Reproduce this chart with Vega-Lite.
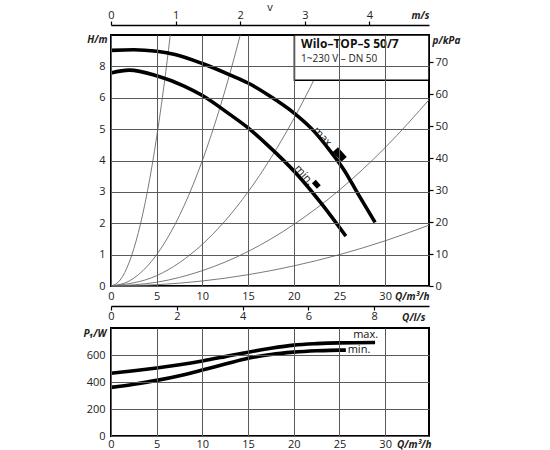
{
  "$schema": "https://vega.github.io/schema/vega-lite/v6.json",
  "background": "white",
  "padding": {"left": 81, "top": 1, "right": 5, "bottom": 0},
  "spacing": 4,
  "datasets": {
    "pump": [
      {"curve": "max", "Q": 0, "H": 7.51}, {"curve": "max", "Q": 2.5, "H": 7.53}, {"curve": "max", "Q": 5, "H": 7.48},
      {"curve": "max", "Q": 7, "H": 7.38}, {"curve": "max", "Q": 10, "H": 7.09}, {"curve": "max", "Q": 13, "H": 6.73},
      {"curve": "max", "Q": 15, "H": 6.47}, {"curve": "max", "Q": 17.25, "H": 6.08}, {"curve": "max", "Q": 20, "H": 5.52},
      {"curve": "max", "Q": 22, "H": 5.0}, {"curve": "max", "Q": 24, "H": 4.3}, {"curve": "max", "Q": 25.5, "H": 3.7},
      {"curve": "max", "Q": 27, "H": 2.95}, {"curve": "max", "Q": 28.9, "H": 2.03},
      {"curve": "min", "Q": 0, "H": 6.79}, {"curve": "min", "Q": 2, "H": 6.88}, {"curve": "min", "Q": 5, "H": 6.7},
      {"curve": "min", "Q": 8, "H": 6.37}, {"curve": "min", "Q": 10, "H": 6.07}, {"curve": "min", "Q": 13, "H": 5.47},
      {"curve": "min", "Q": 15, "H": 5.04}, {"curve": "min", "Q": 17.25, "H": 4.46}, {"curve": "min", "Q": 20.2, "H": 3.61},
      {"curve": "min", "Q": 23.1, "H": 2.6}, {"curve": "min", "Q": 25.7, "H": 1.59}
    ],
    "system": [
      {"k": "a", "Q": 0, "H": 0}, {"k": "a", "Q": 1, "H": 0.19}, {"k": "a", "Q": 2, "H": 0.76}, {"k": "a", "Q": 3, "H": 1.71},
      {"k": "a", "Q": 4, "H": 3.04}, {"k": "a", "Q": 5, "H": 4.75}, {"k": "a", "Q": 6, "H": 6.84}, {"k": "a", "Q": 6.6, "H": 8.28},
      {"k": "b", "Q": 0, "H": 0}, {"k": "b", "Q": 2, "H": 0.16}, {"k": "b", "Q": 4, "H": 0.64}, {"k": "b", "Q": 6, "H": 1.44},
      {"k": "b", "Q": 8, "H": 2.56}, {"k": "b", "Q": 10, "H": 4.0}, {"k": "b", "Q": 12, "H": 5.76}, {"k": "b", "Q": 14, "H": 7.84},
      {"k": "b", "Q": 14.5, "H": 8.41},
      {"k": "c", "Q": 0, "H": 0}, {"k": "c", "Q": 5, "H": 0.33}, {"k": "c", "Q": 10, "H": 1.33}, {"k": "c", "Q": 15, "H": 3.0},
      {"k": "c", "Q": 20, "H": 5.33}, {"k": "c", "Q": 22.5, "H": 6.74}, {"k": "c", "Q": 25, "H": 8.31},
      {"k": "d", "Q": 0, "H": 0}, {"k": "d", "Q": 5, "H": 0.12}, {"k": "d", "Q": 10, "H": 0.49}, {"k": "d", "Q": 15, "H": 1.1},
      {"k": "d", "Q": 20, "H": 1.96}, {"k": "d", "Q": 25, "H": 3.06}, {"k": "d", "Q": 30, "H": 4.41}, {"k": "d", "Q": 35, "H": 6.0},
      {"k": "e", "Q": 0, "H": 0}, {"k": "e", "Q": 5, "H": 0.04}, {"k": "e", "Q": 10, "H": 0.16}, {"k": "e", "Q": 15, "H": 0.36},
      {"k": "e", "Q": 20, "H": 0.64}, {"k": "e", "Q": 25, "H": 1.0}, {"k": "e", "Q": 30, "H": 1.44}, {"k": "e", "Q": 35, "H": 1.96}
    ],
    "power": [
      {"curve": "max", "Q": 0, "P": 465}, {"curve": "max", "Q": 2.5, "P": 483}, {"curve": "max", "Q": 5, "P": 504},
      {"curve": "max", "Q": 7.5, "P": 528}, {"curve": "max", "Q": 10, "P": 556}, {"curve": "max", "Q": 12.5, "P": 588},
      {"curve": "max", "Q": 15, "P": 621}, {"curve": "max", "Q": 17.5, "P": 650}, {"curve": "max", "Q": 20, "P": 673},
      {"curve": "max", "Q": 22.5, "P": 684}, {"curve": "max", "Q": 25, "P": 690}, {"curve": "max", "Q": 28.9, "P": 693},
      {"curve": "min", "Q": 0, "P": 360}, {"curve": "min", "Q": 2.5, "P": 384}, {"curve": "min", "Q": 5, "P": 412},
      {"curve": "min", "Q": 7.5, "P": 447}, {"curve": "min", "Q": 10, "P": 489}, {"curve": "min", "Q": 12.5, "P": 533},
      {"curve": "min", "Q": 15, "P": 576}, {"curve": "min", "Q": 17.5, "P": 604}, {"curve": "min", "Q": 20, "P": 621},
      {"curve": "min", "Q": 22.5, "P": 631}, {"curve": "min", "Q": 25, "P": 636}, {"curve": "min", "Q": 25.7, "P": 636}
    ]
  },
  "vconcat": [
    {
      "title": {"text": "v", "fontSize": 11, "fontWeight": "normal", "offset": -4, "color": "#222"},
      "width": 318,
      "height": 251,
      "layer": [
        {
          "data": {"name": "system"},
          "mark": {"type": "line", "stroke": "#6b6b6b", "strokeWidth": 0.9, "interpolate": "monotone", "clip": true},
          "encoding": {
            "x": {
              "field": "Q", "type": "quantitative",
              "scale": {"domain": [0, 34.8], "nice": false, "zero": false},
              "axis": {"orient": "bottom", "values": [0, 5, 10, 15, 20, 25, 30], "grid": true, "gridColor": "#5a5a5a", "zindex": 1, "labelPadding": 4, "title": "Q/m³/h", "titleX": 318, "titleY": 10, "titleAlign": "right", "titleBaseline": "middle"}
            },
            "y": {
              "field": "H", "type": "quantitative",
              "scale": {"domain": [0, 8], "nice": false},
              "axis": {"orient": "left", "values": [0, 1, 2, 3, 4, 5, 6, 7], "grid": true, "gridColor": "#5a5a5a", "zindex": 1, "labelPadding": 6, "labelExpr": "datum.value == 7 ? '8' : datum.label", "title": "H/m", "titleX": -4, "titleY": 4, "titleAlign": "right", "titleBaseline": "middle"}
            },
            "detail": {"field": "k"}
          }
        },
        {
          "layer": [
            {
              "data": {"values": [{}]},
              "mark": {"type": "rect", "fill": "white", "stroke": "black", "strokeWidth": 1.6},
              "encoding": {
                "x": {"datum": 20.07, "type": "quantitative", "scale": {"domain": [0, 34.8], "nice": false, "zero": false}, "axis": null},
                "x2": {"datum": 34.8},
                "y": {"datum": 6.56, "type": "quantitative", "scale": {"domain": [0, 8], "nice": false}, "axis": null},
                "y2": {"datum": 8}
              }
            },
            {
              "data": {"values": [{}]},
              "mark": {"type": "text", "text": "Wilo–TOP–S 50/7", "align": "left", "baseline": "middle", "fontSize": 12, "fontWeight": "bold", "color": "#111"},
              "encoding": {
                "x": {"datum": 20.8, "type": "quantitative", "axis": null},
                "y": {"datum": 7.7, "type": "quantitative", "axis": null}
              }
            },
            {
              "data": {"values": [{}]},
              "mark": {"type": "text", "text": "1~230 V – DN 50", "align": "left", "baseline": "middle", "fontSize": 10, "color": "#222"},
              "encoding": {
                "x": {"datum": 20.8, "type": "quantitative", "axis": null},
                "y": {"datum": 7.22, "type": "quantitative", "axis": null}
              }
            },
            {
              "data": {"name": "pump"},
              "mark": {"type": "line", "stroke": "black", "strokeWidth": 3.6, "interpolate": "monotone", "strokeCap": "butt"},
              "encoding": {
                "x": {"field": "Q", "type": "quantitative", "axis": null},
                "y": {"field": "H", "type": "quantitative", "axis": null},
                "detail": {"field": "curve"}
              }
            },
            {
              "data": {"values": [{}]},
              "mark": {"type": "text", "text": "max.", "angle": 48, "align": "center", "baseline": "middle", "fontSize": 11, "color": "#111"},
              "encoding": {
                "x": {"datum": 23.2, "type": "quantitative", "axis": null},
                "y": {"datum": 4.72, "type": "quantitative", "axis": null}
              }
            },
            {
              "data": {"values": [{}]},
              "mark": {"type": "text", "text": "min.", "angle": 48, "align": "center", "baseline": "middle", "fontSize": 11, "color": "#111"},
              "encoding": {
                "x": {"datum": 21.09, "type": "quantitative", "axis": null},
                "y": {"datum": 3.53, "type": "quantitative", "axis": null}
              }
            },
            {
              "data": {"values": [{}]},
              "mark": {"type": "point", "shape": "M-1,-0.55H1V0.55H-1Z", "filled": true, "color": "black", "opacity": 1, "size": 170, "angle": 48},
              "encoding": {
                "x": {"datum": 25.03, "type": "quantitative", "axis": null},
                "y": {"datum": 4.19, "type": "quantitative", "axis": null}
              }
            },
            {
              "data": {"values": [{}]},
              "mark": {"type": "point", "shape": "M-1,-0.7H1V0.7H-1Z", "filled": true, "color": "black", "opacity": 1, "size": 55, "angle": 48},
              "encoding": {
                "x": {"datum": 22.47, "type": "quantitative", "axis": null},
                "y": {"datum": 3.24, "type": "quantitative", "axis": null}
              }
            }
          ]
        },
        {
          "data": {"values": [{}]},
          "mark": {"type": "point", "opacity": 0},
          "encoding": {
            "x": {
              "datum": 0, "type": "quantitative",
              "scale": {"domain": [0, 4.923], "nice": false},
              "axis": {
                "orient": "top", "offset": 10, "values": [0, 1, 2, 3, 4], "grid": false,
                "domain": true, "domainColor": "black", "domainWidth": 1.5,
                "ticks": true, "tickColor": "black", "tickSize": 4, "tickWidth": 1.2, "labelPadding": 1,
                "title": "m/s", "titleX": 318, "titleY": -10, "titleAlign": "right", "titleBaseline": "middle"
              }
            },
            "y": {
              "datum": 0, "type": "quantitative",
              "scale": {"domain": [0, 78.48], "nice": false},
              "axis": {
                "orient": "right", "values": [0, 10, 20, 30, 40, 50, 60, 70], "grid": false,
                "ticks": true, "tickColor": "black", "tickSize": 4, "tickWidth": 1.2, "labelPadding": 2,
                "title": "p/kPa", "titleX": 3, "titleY": 5, "titleAlign": "left", "titleBaseline": "middle"
              }
            }
          }
        },
        {
          "data": {"values": [{}]},
          "mark": {"type": "point", "opacity": 0},
          "encoding": {
            "x": {
              "datum": 0, "type": "quantitative",
              "scale": {"domain": [0, 9.667], "nice": false},
              "axis": {
                "orient": "bottom", "offset": 20, "values": [0, 2, 4, 6, 8], "grid": false,
                "domain": true, "domainColor": "black", "domainWidth": 1.5,
                "ticks": true, "tickColor": "black", "tickSize": 4, "tickWidth": 1.2, "labelPadding": 0,
                "title": "Q/l/s", "titleX": 314, "titleY": 11, "titleAlign": "right", "titleBaseline": "middle"
              }
            }
          }
        }
      ],
      "resolve": {"scale": {"x": "independent", "y": "independent"}}
    },
    {
      "width": 318,
      "height": 108,
      "layer": [
        {
          "data": {"name": "power"},
          "mark": {"type": "line", "stroke": "black", "strokeWidth": 3.6, "interpolate": "monotone", "strokeCap": "butt"},
          "encoding": {
            "x": {
              "field": "Q", "type": "quantitative",
              "scale": {"domain": [0, 34.8], "nice": false, "zero": false},
              "axis": {"orient": "bottom", "values": [0, 5, 10, 15, 20, 25, 30], "grid": true, "gridColor": "#5a5a5a", "zindex": 1, "labelPadding": 2, "title": "Q/m³/h", "titleX": 320, "titleY": 8, "titleAlign": "right", "titleBaseline": "middle"}
            },
            "y": {
              "field": "P", "type": "quantitative",
              "scale": {"domain": [0, 800], "nice": false},
              "axis": {"orient": "left", "values": [0, 200, 400, 600], "grid": true, "gridColor": "#5a5a5a", "zindex": 1, "labelPadding": 6, "title": "P₁/W", "titleX": -5, "titleY": 5, "titleAlign": "right", "titleBaseline": "middle"}
            },
            "detail": {"field": "curve"}
          }
        },
        {
          "layer": [
            {
              "data": {"values": [{}]},
              "mark": {"type": "text", "text": "max.", "align": "left", "baseline": "middle", "fontSize": 11, "color": "#111"},
              "encoding": {
                "x": {"datum": 26.5, "type": "quantitative", "scale": {"domain": [0, 34.8], "nice": false, "zero": false}, "axis": null},
                "y": {"datum": 747, "type": "quantitative", "scale": {"domain": [0, 800], "nice": false}, "axis": null}
              }
            },
            {
              "data": {"values": [{}]},
              "mark": {"type": "text", "text": "min.", "align": "left", "baseline": "middle", "fontSize": 11, "color": "#111"},
              "encoding": {
                "x": {"datum": 25.9, "type": "quantitative", "axis": null},
                "y": {"datum": 640, "type": "quantitative", "axis": null}
              }
            }
          ]
        }
      ],
      "resolve": {"scale": {"x": "independent", "y": "independent"}}
    }
  ],
  "config": {
    "font": "Open Sans",
    "view": {"stroke": "black", "strokeWidth": 2},
    "axis": {
      "labelFont": "Open Sans", "labelFontSize": 11, "labelColor": "#222", "labelFlush": false, "labelOverlap": false,
      "titleFont": "Open Sans", "titleFontSize": 10, "titleFontStyle": "italic", "titleFontWeight": "bold", "titleColor": "#222",
      "titleAngle": 0, "titlePadding": 0,
      "gridColor": "#555",
      "gridWidth": 1, "gridOpacity": 1,
      "domain": false, "ticks": false
    },
    "title": {"font": "Open Sans"}
  }
}
